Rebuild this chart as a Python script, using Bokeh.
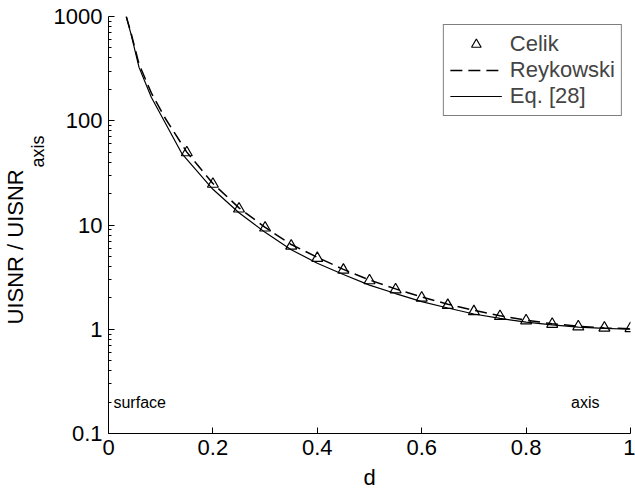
from bokeh.plotting import figure
from bokeh.models import FixedTicker, CustomJSTickFormatter, Range1d, Title
from bokeh.core.properties import value
from bokeh.embed import file_html
from bokeh.resources import INLINE

# ---- data ----
celik_d = [0.15, 0.2, 0.25, 0.3, 0.35, 0.4, 0.45, 0.5, 0.55, 0.6, 0.65, 0.7,
           0.75, 0.8, 0.85, 0.9, 0.95, 1.0]
celik_v = [49.5, 24.7, 14.3, 9.4, 6.3, 4.8, 3.7, 2.93, 2.4, 2.0, 1.7, 1.48,
           1.33, 1.21, 1.12, 1.06, 1.03, 1.02]

reyk_d = [0.034, 0.043, 0.0585, 0.082, 0.1075, 0.15, 0.2, 0.25, 0.3, 0.35, 0.4,
          0.45, 0.5, 0.55, 0.6, 0.65, 0.7, 0.75, 0.8, 0.85, 0.9, 0.95, 1.0]
reyk_v = [1000, 700, 350, 185, 108, 50, 25, 14.6, 9.5, 6.5, 4.9,
          3.75, 2.97, 2.44, 2.04, 1.74, 1.52, 1.35, 1.22, 1.13, 1.07, 1.03, 1.01]

eq_d = [0.034, 0.043, 0.0585, 0.082, 0.1075, 0.141, 0.2, 0.25, 0.3, 0.35, 0.4,
        0.45, 0.5, 0.55, 0.6, 0.65, 0.7, 0.75, 0.8, 0.85, 0.9, 0.95, 1.0]
eq_v = [1000, 680, 325, 168, 98, 48, 22, 13.1, 8.5, 5.8, 4.3,
        3.35, 2.65, 2.2, 1.84, 1.6, 1.40, 1.27, 1.17, 1.10, 1.05, 1.02, 1.0]

x_ticks = [0, 0.2, 0.4, 0.6, 0.8, 1.0]
y_ticks = [0.1, 1, 10, 100, 1000]
y_minor = [m * 10 ** e for e in range(-1, 3) for m in range(2, 10)]

FONT = "Liberation Sans"

p = figure(width=635, height=492, y_axis_type="log",
           x_range=Range1d(0, 1), y_range=Range1d(0.1, 1000),
           output_backend="svg", toolbar_location=None,
           min_border_left=106, min_border_right=5,
           min_border_top=16, min_border_bottom=54)
p.outline_line_color = None
p.xgrid.grid_line_color = None
p.ygrid.grid_line_color = None
p.background_fill_color = "white"
p.border_fill_color = "white"

p.line(eq_d, eq_v, line_color="black", line_width=1.2, legend_label="Eq. [28]")
p.line(reyk_d, reyk_v, line_color="black", line_width=1.5, line_dash="12 6",
       legend_label="Reykowski")
p.scatter(celik_d, celik_v, marker="triangle", size=11, line_color="black",
          line_width=1.2, fill_alpha=0, legend_label="Celik")

# legend order: Celik, Reykowski, Eq. [28]
items = p.legend[0].items
p.legend[0].items = [items[2], items[1], items[0]]
lg = p.legend[0]
lg.location = "top_right"
lg.margin = 8
lg.padding = 6
lg.spacing = 0
lg.glyph_width = 52
lg.glyph_height = 24
lg.label_height = 24
lg.label_standoff = 8
lg.label_text_font = FONT
lg.label_text_font_size = "22px"
lg.border_line_color = "black"
lg.border_line_width = 1
lg.background_fill_alpha = 1

for ax in (p.xaxis[0], p.yaxis[0]):
    ax.axis_line_color = "black"
    ax.major_tick_line_color = "black"
    ax.minor_tick_line_color = "black"
    ax.major_tick_in = 6
    ax.major_tick_out = 0
    ax.minor_tick_in = 3
    ax.minor_tick_out = 0
    ax.major_label_text_font = FONT
    ax.major_label_text_font_size = "22px"
    ax.major_label_text_color = "black"
    ax.axis_label_text_font = FONT
    ax.axis_label_text_font_size = "22px"
    ax.axis_label_text_font_style = "normal"
    ax.axis_label_text_color = "black"
    ax.major_label_standoff = 6

p.xaxis.ticker = FixedTicker(ticks=x_ticks)
p.xaxis.minor_tick_line_color = None
p.xaxis.axis_label = "d"
p.xaxis.axis_label_standoff = 7
p.xaxis.formatter = CustomJSTickFormatter(code="return String(tick);")

p.yaxis.ticker = FixedTicker(ticks=y_ticks, minor_ticks=y_minor)
p.yaxis.formatter = CustomJSTickFormatter(code="return String(tick);")
p.yaxis.axis_label_standoff = 0

# y-axis label with subscript, as real text, via side titles
t_sub = Title(text="axis", text_font=FONT, text_font_size="18px",
              text_font_style="normal", text_color="black",
              align="left", vertical_align="top", offset=266, standoff=1)
p.add_layout(t_sub, "left")
t_main = Title(text="UISNR / UISNR", text_font=FONT, text_font_size="22px",
               text_font_style="normal", text_color="black",
               align="left", offset=109, standoff=0)
p.add_layout(t_main, "left")

p.text(x=[0.0095], y=[0.2], text=["surface"], text_font=value(FONT),
       text_font_size="16px", text_baseline="middle", text_align="left",
       text_color="black")
p.text(x=[0.886], y=[0.2], text=["axis"], text_font=value(FONT),
       text_font_size="16px", text_baseline="middle", text_align="left",
       text_color="black")

open("out.html", "w").write(file_html(p, INLINE))
